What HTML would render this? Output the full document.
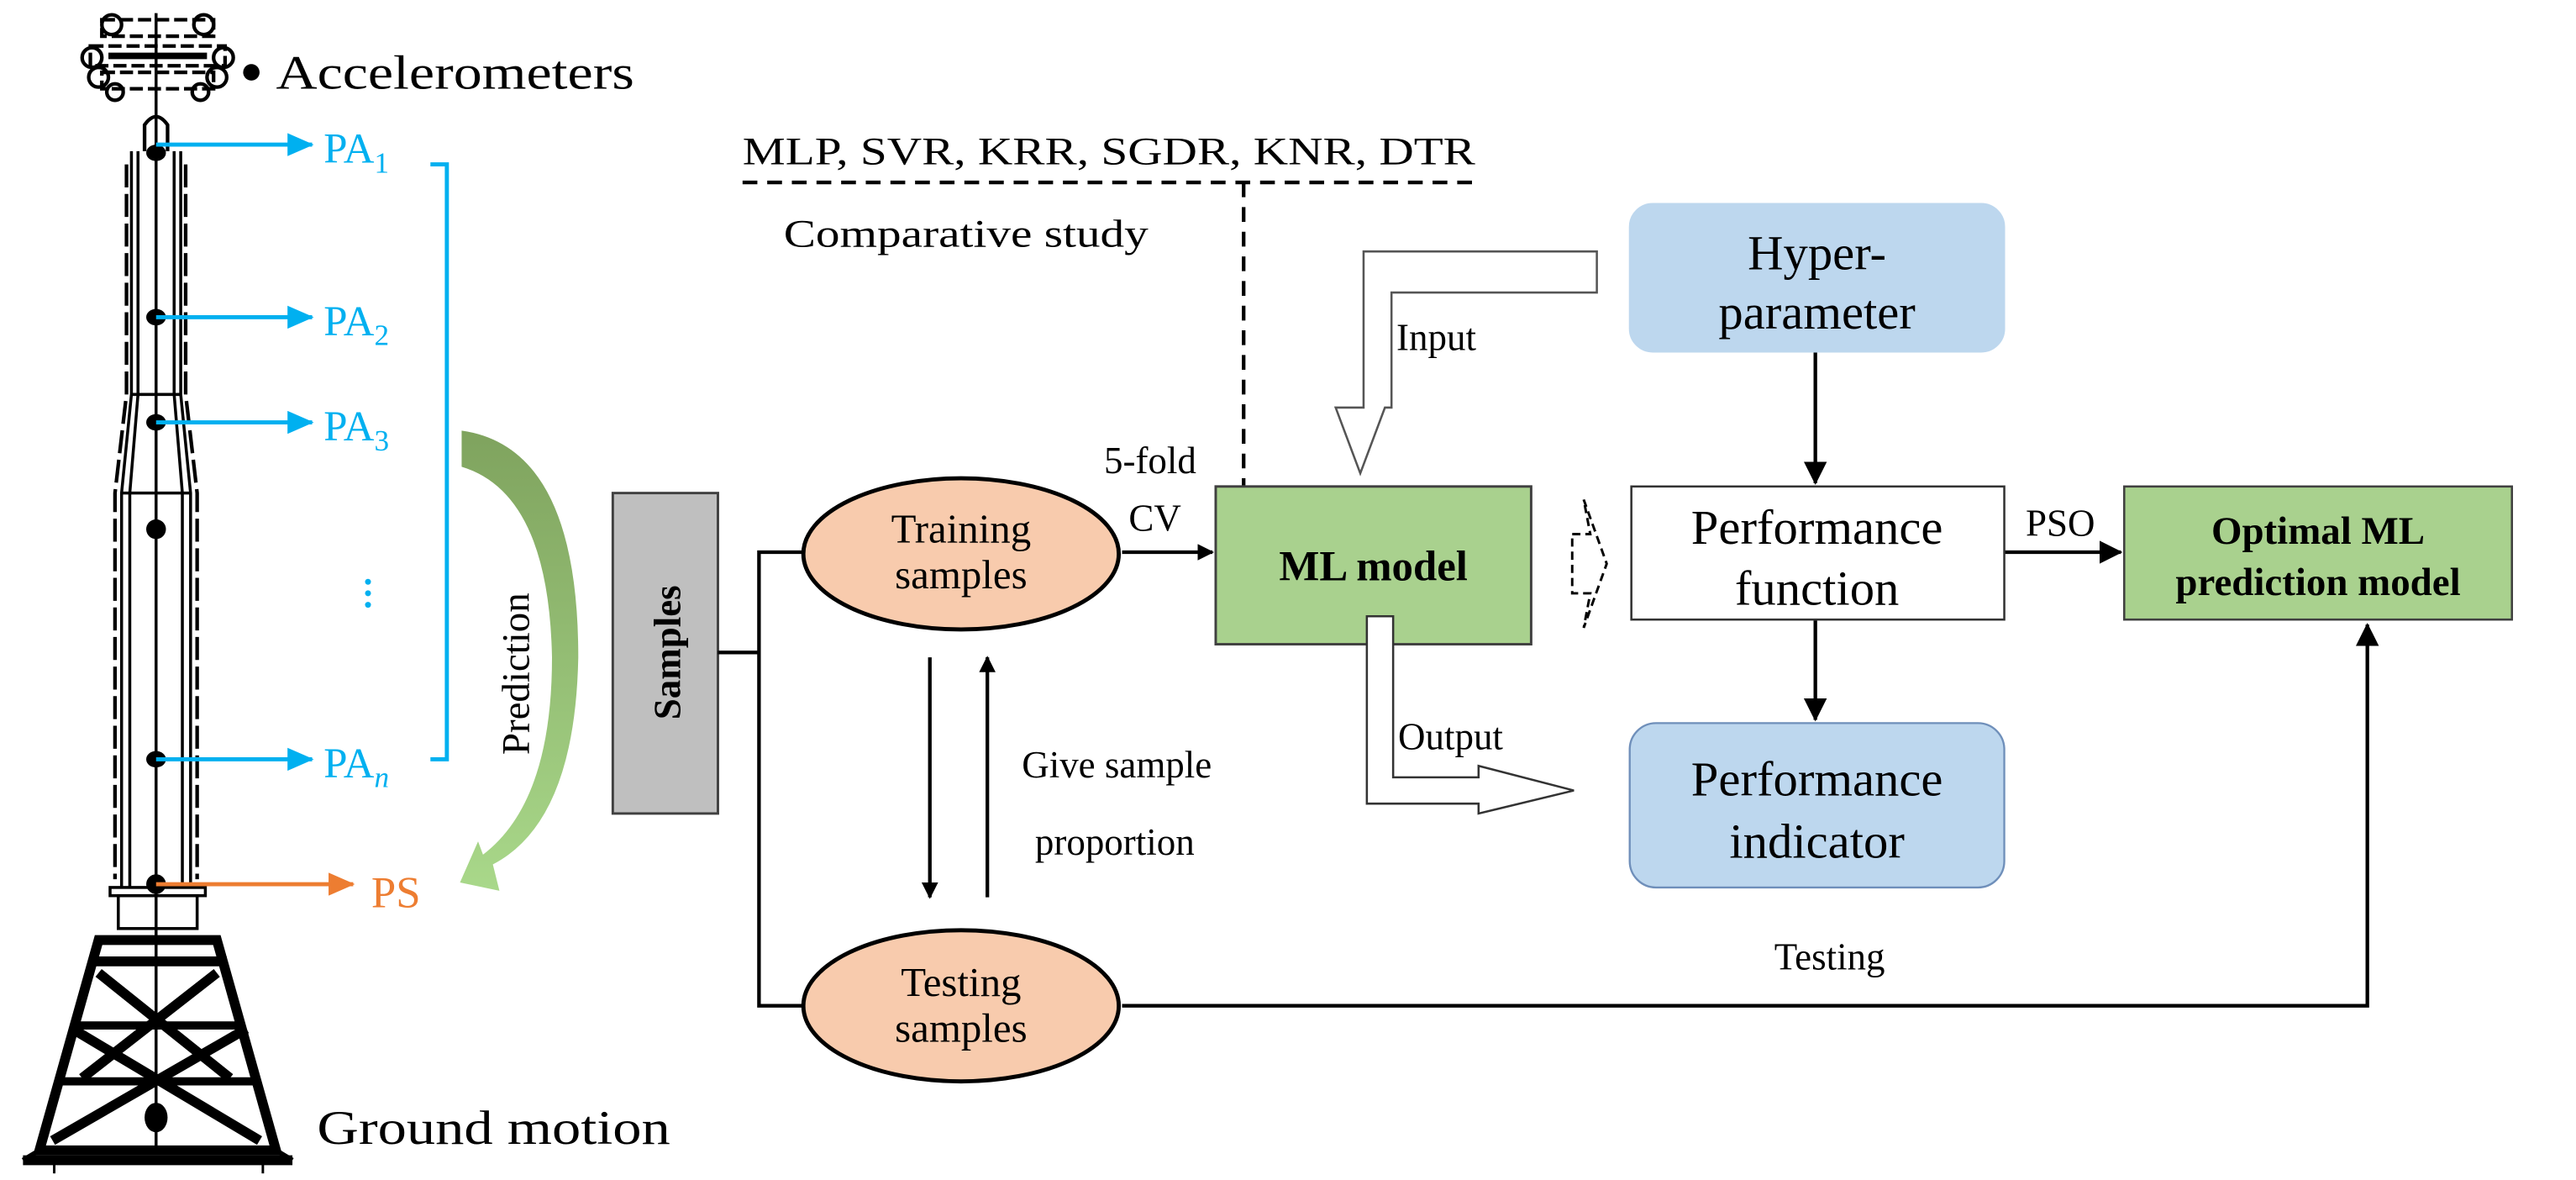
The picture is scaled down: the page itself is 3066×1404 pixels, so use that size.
<!DOCTYPE html>
<html><head><meta charset="utf-8"><style>
html,body{margin:0;padding:0;background:#fff;}
svg{display:block;}
text{font-family:"Liberation Serif",serif;}
</style></head><body>
<svg width="3066" height="1404" viewBox="0 0 1568 718" xmlns="http://www.w3.org/2000/svg">
<defs>
<marker id="ab" markerWidth="10" markerHeight="10" refX="9" refY="5" orient="auto" markerUnits="userSpaceOnUse"><path d="M0,0 L10,5 L0,10 z" fill="#000"/></marker>
<marker id="ab2" markerWidth="14" markerHeight="14" refX="13" refY="7" orient="auto" markerUnits="userSpaceOnUse"><path d="M0,0 L14,7 L0,14 z" fill="#000"/></marker>
<marker id="abl" markerWidth="16" markerHeight="14" refX="15" refY="7" orient="auto" markerUnits="userSpaceOnUse"><path d="M0,0 L16,7 L0,14 z" fill="#00b0f0"/></marker>
<marker id="aor" markerWidth="16" markerHeight="14" refX="15" refY="7" orient="auto" markerUnits="userSpaceOnUse"><path d="M0,0 L16,7 L0,14 z" fill="#ed7d31"/></marker>
<linearGradient id="gg" x1="0" y1="0" x2="0" y2="1"><stop offset="0" stop-color="#7fa35e"/><stop offset="1" stop-color="#a9d88a"/></linearGradient>
</defs>

<!-- Tower head -->
<g stroke="#000" fill="none" stroke-width="2.2">
<rect x="62" y="12" width="68" height="10" stroke-dasharray="8,3"/>
<rect x="55" y="28" width="82" height="12" stroke-dasharray="8,3"/>
<rect x="62" y="44" width="68" height="10" stroke-dasharray="8,3"/>
<line x1="66" y1="34" x2="126" y2="34" stroke-width="4"/>
<circle cx="68" cy="15" r="6"/><circle cx="124" cy="15" r="6"/>
<circle cx="56" cy="35" r="6"/><circle cx="136" cy="35" r="6"/>
<circle cx="60" cy="47" r="6"/><circle cx="132" cy="47" r="6"/>
<circle cx="70" cy="56" r="5"/><circle cx="122" cy="56" r="5"/>
<path d="M88,92 L88,76 Q95,66 102,76 L102,92"/>
</g>
<g stroke="#000" fill="none" stroke-width="1.8">
<line x1="95" y1="8" x2="95" y2="700"/>
<path d="M80,92 L80,240 L74,300 L74,540"/>
<path d="M110,92 L110,240 L116,300 L116,540"/>
<path d="M84,92 L84,240 L79,300 L79,540"/>
<path d="M106,92 L106,240 L111,300 L111,540"/>
<path d="M77,100 L77,240 L70,300 L70,535" stroke-dasharray="14,4" stroke-width="2.2"/>
<path d="M113,100 L113,240 L120,300 L120,535" stroke-dasharray="14,4" stroke-width="2.2"/>
<line x1="80" y1="240" x2="110" y2="240"/>
<line x1="74" y1="300" x2="116" y2="300"/>
<rect x="72" y="545" width="48" height="20"/>
<rect x="67" y="540" width="58" height="5"/>
</g>
<!-- lattice base -->
<g stroke="#000" fill="none">
<path d="M60,572 L132,572 L168,700 L24,700 Z" stroke-width="6"/>
<path d="M44,624 L148,624" stroke-width="5"/>
<path d="M36,658 L156,658" stroke-width="5"/>
<path d="M55,585 L138,585" stroke-width="6"/>
<path d="M60,592 L140,656 M132,592 L50,656" stroke-width="6"/>
<path d="M44,626 L158,694 M150,626 L32,694" stroke-width="6"/>
<path d="M14,706 L178,706" stroke-width="6"/>
<path d="M24,700 L14,706 M168,700 L178,706" stroke-width="3"/>
<line x1="33" y1="706" x2="33" y2="714" stroke-width="1.5"/>
<line x1="160" y1="706" x2="160" y2="714" stroke-width="1.5"/>
</g>
<!-- dots -->
<g fill="#000">
<circle cx="153" cy="44" r="5"/>
<ellipse cx="95" cy="93" rx="6" ry="5"/>
<ellipse cx="95" cy="193" rx="6" ry="5"/>
<ellipse cx="95" cy="257" rx="6" ry="5"/>
<ellipse cx="95" cy="322" rx="6" ry="6"/>
<ellipse cx="95" cy="462" rx="6" ry="5"/>
<ellipse cx="95" cy="538" rx="6" ry="6"/>
<ellipse cx="95" cy="680" rx="7" ry="9"/>
</g>
<text x="168" y="54" font-size="29" textLength="218" lengthAdjust="spacingAndGlyphs">Accelerometers</text>
<text x="193" y="696" font-size="29" textLength="215" lengthAdjust="spacingAndGlyphs">Ground motion</text>

<!-- blue arrows -->
<g stroke="#00b0f0" stroke-width="2.5" marker-end="url(#abl)">
<line x1="95" y1="88" x2="190" y2="88"/>
<line x1="95" y1="193" x2="190" y2="193"/>
<line x1="95" y1="257" x2="190" y2="257"/>
<line x1="95" y1="462" x2="190" y2="462"/>
</g>
<g fill="#00b0f0" font-size="26">
<text x="197" y="99">PA<tspan font-size="18" dy="6">1</tspan></text>
<text x="197" y="204">PA<tspan font-size="18" dy="6">2</tspan></text>
<text x="197" y="268">PA<tspan font-size="18" dy="6">3</tspan></text>
<text x="197" y="473">PA<tspan font-size="18" dy="6" font-style="italic">n</tspan></text>
<circle cx="224" cy="354" r="1.8"/><circle cx="224" cy="361" r="1.8"/><circle cx="224" cy="368" r="1.8"/>
</g>
<path d="M262,100 L272,100 L272,462 L262,462" stroke="#00b0f0" stroke-width="2.5" fill="none"/>
<line x1="95" y1="538" x2="215" y2="538" stroke="#ed7d31" stroke-width="2.5" marker-end="url(#aor)"/>
<text x="226" y="552" fill="#ed7d31" font-size="27">PS</text>

<!-- green curved arrow -->
<path d="M281,262 Q352,272 352,400 Q350,500 300,526 L304,542 L280,537 L291,512 L294,520 Q336,488 336,400 Q334,300 281,284 Z" fill="url(#gg)"/>
<text transform="translate(322,410) rotate(-90)" text-anchor="middle" font-size="24">Prediction</text>

<!-- Samples -->
<rect x="373" y="300" width="64" height="195" fill="#bfbfbf" stroke="#404040" stroke-width="1.5"/>
<text transform="translate(414,397) rotate(-90)" text-anchor="middle" font-size="23" font-weight="bold">Samples</text>

<!-- connectors -->
<g stroke="#000" stroke-width="2.2" fill="none">
<path d="M437,397 L462,397"/>
<path d="M490,336 L462,336 L462,612 L490,612"/>
<path d="M683,612 L1441,612 L1441,380" marker-end="url(#ab2)"/>
<line x1="683" y1="336" x2="738" y2="336" marker-end="url(#ab)"/>
<line x1="1105" y1="214" x2="1105" y2="294" marker-end="url(#ab2)"/>
<line x1="1105" y1="377" x2="1105" y2="438" marker-end="url(#ab2)"/>
<line x1="1220" y1="336" x2="1291" y2="336" marker-end="url(#ab2)"/>
<line x1="566" y1="400" x2="566" y2="546" marker-end="url(#ab)"/>
<line x1="601" y1="546" x2="601" y2="400" marker-end="url(#ab)"/>
</g>
<g stroke="#000" stroke-width="2.2" fill="none" stroke-dasharray="9,6">
<line x1="452" y1="111" x2="898" y2="111"/>
<line x1="757" y1="111" x2="757" y2="296"/>
</g>
<text x="452" y="100" font-size="24" textLength="446" lengthAdjust="spacingAndGlyphs">MLP, SVR, KRR, SGDR, KNR, DTR</text>
<text x="477" y="150" font-size="24" textLength="222" lengthAdjust="spacingAndGlyphs">Comparative study</text>

<!-- ellipses -->
<ellipse cx="585" cy="337" rx="96" ry="46" fill="#f8cbad" stroke="#000" stroke-width="2.5"/>
<text x="585" y="330" text-anchor="middle" font-size="25">Training</text>
<text x="585" y="358" text-anchor="middle" font-size="25">samples</text>
<ellipse cx="585" cy="612" rx="96" ry="46" fill="#f8cbad" stroke="#000" stroke-width="2.5"/>
<text x="585" y="606" text-anchor="middle" font-size="25">Testing</text>
<text x="585" y="634" text-anchor="middle" font-size="25">samples</text>

<text x="672" y="288" font-size="23">5-fold</text>
<text x="687" y="323" font-size="23">CV</text>
<text x="622" y="473" font-size="23">Give sample</text>
<text x="630" y="520" font-size="23">proportion</text>

<!-- ML model -->
<rect x="740" y="296" width="192" height="96" fill="#a9d18e" stroke="#404040" stroke-width="1.5"/>
<text x="836" y="353" text-anchor="middle" font-size="26" font-weight="bold">ML model</text>

<!-- Input hollow arrow -->
<path d="M972,153 L830,153 L830,248 L813,248 L828,288 L843,248 L847,248 L847,178 L972,178 Z" fill="#fff" stroke="#555" stroke-width="1.3"/>
<text x="850" y="213" font-size="23">Input</text>
<!-- Output hollow arrow -->
<path d="M832,375 L848,375 L848,473 L900,473 L900,466 L958,481 L900,495 L900,489 L832,489 Z" fill="#fff" stroke="#333" stroke-width="1.3"/>
<text x="851" y="456" font-size="23">Output</text>
<!-- dashed hollow arrow -->
<path d="M957,325 L968,325 L964,304 L978,343 L964,382 L968,361 L957,361 Z" fill="none" stroke="#000" stroke-width="1.5" stroke-dasharray="5,3"/>

<!-- right boxes -->
<rect x="992" y="124" width="228" height="90" rx="14" fill="#bdd7ee" stroke="#bdd7ee"/>
<text x="1106" y="164" text-anchor="middle" font-size="30">Hyper-</text>
<text x="1106" y="200" text-anchor="middle" font-size="30">parameter</text>
<rect x="993" y="296" width="227" height="81" fill="#fff" stroke="#333" stroke-width="1.3"/>
<text x="1106" y="331" text-anchor="middle" font-size="30">Performance</text>
<text x="1106" y="368" text-anchor="middle" font-size="30">function</text>
<rect x="992" y="440" width="228" height="100" rx="16" fill="#bdd7ee" stroke="#6f8fba" stroke-width="1.2"/>
<text x="1106" y="484" text-anchor="middle" font-size="30">Performance</text>
<text x="1106" y="522" text-anchor="middle" font-size="30">indicator</text>
<text x="1233" y="326" font-size="23">PSO</text>
<rect x="1293" y="296" width="236" height="81" fill="#a9d18e" stroke="#404040" stroke-width="1.3"/>
<text x="1411" y="331" text-anchor="middle" font-size="24" font-weight="bold">Optimal ML</text>
<text x="1411" y="362" text-anchor="middle" font-size="24" font-weight="bold">prediction model</text>
<text x="1080" y="590" font-size="23">Testing</text>
</svg>
</body></html>
